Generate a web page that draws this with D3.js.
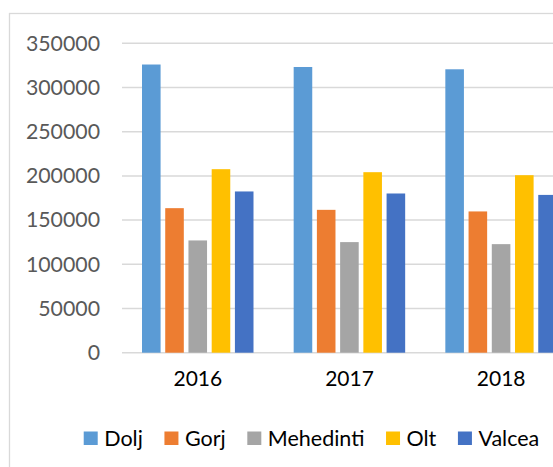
<!DOCTYPE html>
<html>
<head>
<meta charset="utf-8">
<script src="https://cdn.jsdelivr.net/npm/d3@7"></script>
<style>
  body { margin: 0; background: #fff; }
  svg { display: block; font-family: Lato, "Noto Sans", sans-serif; }
</style>
</head>
<body>
<svg width="553" height="467"></svg>
<script>
// Data
const years = ["2016", "2017", "2018"];
const counties = ["Dolj", "Gorj", "Mehedinti", "Olt", "Valcea"];
const dolj = [326000, 323200, 320600];
const gorj = [163500, 161600, 159800];
const mehedinti = [127000, 125100, 122800];
const olt = [207600, 204200, 200800];
const valcea = [182400, 180100, 178500];
const yTicks = [0, 50000, 100000, 150000, 200000, 250000, 300000, 350000];
const colors = ["#5B9BD5", "#ED7D31", "#A5A5A5", "#FFC000", "#4472C4"];

const seriesValues = [dolj, gorj, mehedinti, olt, valcea];
const rows = [];
years.forEach((yr, i) => {
    counties.forEach((c, j) => {
        rows.push({ year: yr, county: c, value: seriesValues[j][i] });
    });
});

const svg = d3.select("svg");

// Chart area border (runs off the right side)
svg.append("rect")
    .attr("x", 9.5)
    .attr("y", 13.5)
    .attr("width", 600)
    .attr("height", 500)
    .attr("fill", "none")
    .attr("stroke", "#d9d9d9")
    .attr("stroke-width", 1.3);

// Scales
const x0 = d3.scaleBand()
    .domain(years)
    .range([122, 577]);

const x1 = d3.scaleBand()
    .domain(counties)
    .range([20, 131.5])
    .paddingInner(0.2);

const y = d3.scaleLinear()
    .domain([0, 350000])
    .range([352.7, 43.3]);

const color = d3.scaleOrdinal()
    .domain(counties)
    .range(colors);

// Gridlines
svg.append("g")
    .selectAll("line")
    .data(yTicks)
    .enter()
    .append("line")
    .attr("x1", 122)
    .attr("x2", 600)
    .attr("y1", d => y(d))
    .attr("y2", d => y(d))
    .attr("stroke", "#d9d9d9")
    .attr("stroke-width", 1.5);

// Y axis labels
const yAxis = svg.append("g")
    .attr("transform", "translate(100,0)")
    .call(d3.axisLeft(y).tickValues(yTicks).tickSize(0).tickPadding(0).tickFormat(d3.format("d")));
yAxis.select(".domain").remove();
yAxis.selectAll("text")
    .attr("font-family", "Lato, 'Noto Sans', sans-serif")
    .attr("font-size", "21.3px")
    .attr("fill", "#595959");

// Bars
svg.append("g")
    .selectAll("rect")
    .data(rows)
    .enter()
    .append("rect")
    .attr("x", d => x0(d.year) + x1(d.county))
    .attr("y", d => y(d.value))
    .attr("width", x1.bandwidth())
    .attr("height", d => y(0) - y(d.value))
    .attr("fill", d => color(d.county));

// Category labels
const xAxis = svg.append("g")
    .attr("transform", `translate(0, 371)`)
    .call(d3.axisBottom(x0).tickSize(0).tickPadding(0));
xAxis.select(".domain").remove();
xAxis.selectAll("text")
    .attr("font-family", "Lato, 'Noto Sans', sans-serif")
    .attr("font-size", "21px")
    .attr("fill", "#000");

// Legend
const legend = svg.append("g");
const items = legend.selectAll("g")
    .data(counties)
    .enter()
    .append("g");

items.append("rect")
    .attr("width", 14)
    .attr("height", 13.5)
    .attr("y", 431.5)
    .attr("fill", d => color(d));

items.append("text")
    .attr("x", 20.5)
    .attr("y", 445.5)
    .attr("font-size", "21.5px")
    .attr("fill", "#000")
    .text(d => d);

let pos = 0;
const offsets = [];
items.each(function() {
    const w = d3.select(this).select("text").node().getComputedTextLength();
    offsets.push(pos);
    pos += 20.5 + w + 21.6;
});
const total = pos - 21.6;
const start = 311.5 - total / 2;
items.attr("transform", (d, i) => `translate(${start + offsets[i]},0)`);
</script>
</body>
</html>
